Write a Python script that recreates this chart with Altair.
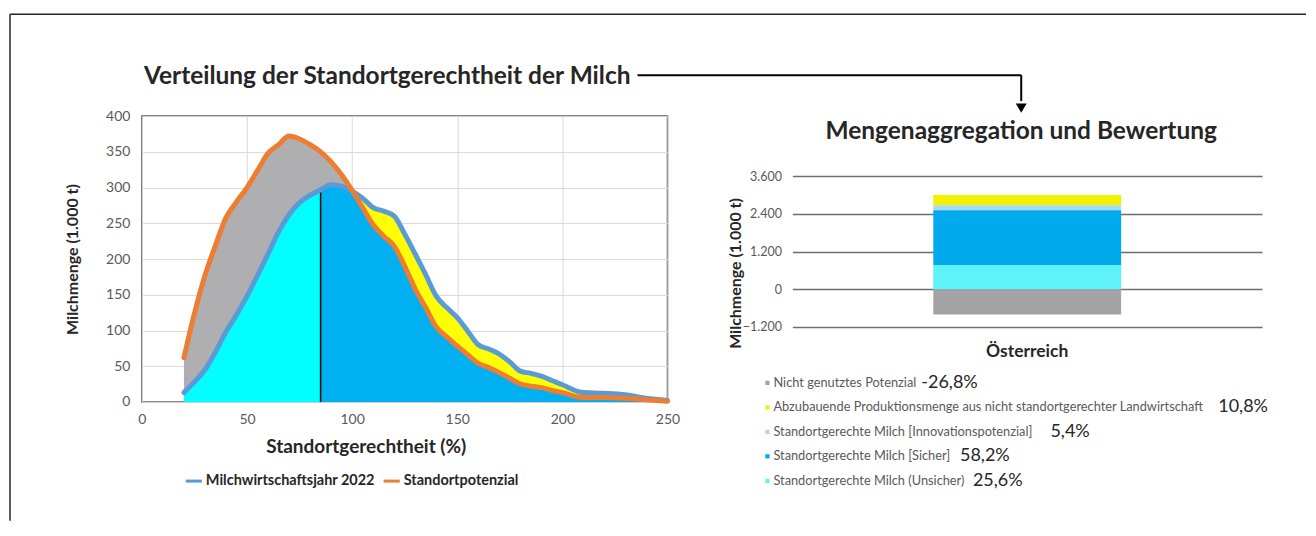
import altair as alt
import pandas as pd

# ---------------- data: left chart (distribution) ----------------
x_pct = [20, 25, 30, 35, 40, 45, 50, 55, 60, 65, 70, 75, 80, 85, 90, 95, 100, 105, 110, 115,
         120, 125, 130, 135, 140, 145, 150, 155, 160, 165, 170, 175, 180, 185, 190, 195, 200,
         210, 220, 230, 240, 250]
milch_2022 = [13, 28, 45, 70, 98, 122, 148, 177, 207, 238, 262, 279, 289, 297, 304, 302, 295, 285,
              272, 267, 260, 235, 207, 178, 148, 132, 118, 99, 80, 74, 67, 56, 43, 40, 36, 30, 24,
              13, 12, 10, 5, 2]
standortpotenzial = [62, 124, 177, 219, 258, 280, 300, 324, 348, 360, 372, 368, 360, 350, 336, 318,
                     296, 272, 248, 232, 218, 190, 158, 132, 105, 91, 78, 66, 54, 48, 41, 33, 25, 22,
                     20, 16, 13, 6, 6, 5, 3, 1]
split_at = 85
series_names = ["Milchwirtschaftsjahr 2022", "Standortpotenzial"]
x_ticks = [0, 50, 100, 150, 200, 250]
y_ticks = [0, 50, 100, 150, 200, 250, 300, 350, 400]

# ---------------- data: right chart (aggregation) ----------------
country = "Österreich"
categories = ["Nicht genutztes Potenzial",
              "Abzubauende Produktionsmenge aus nicht standortgerechter Landwirtschaft",
              "Standortgerechte Milch [Innovationspotenzial]",
              "Standortgerechte Milch [Sicher]",
              "Standortgerechte Milch (Unsicher)"]
amounts = [-805, 325, 160, 1745, 770]
shares = ["-26,8%", "10,8%", "5,4%", "58,2%", "25,6%"]
stack_rank = [0, 4, 3, 2, 1]
bar_colors = ["#A3A3A5", "#F2F200", "#A9D8F2", "#00AAEC", "#5EF3F8"]
r_ticks = [-1200, 0, 1200, 2400, 3600]

FONT = "Lato"
DARK = "#262626"
GREY = "#595959"

# ---------------- left chart ----------------
wide = pd.DataFrame({"x": x_pct, "blue": milch_2022, "orange": standortpotenzial})
wide["lo"] = wide[["blue", "orange"]].min(axis=1)
long = pd.concat([
    pd.DataFrame({"x": x_pct, "v": milch_2022, "series": series_names[0]}),
    pd.DataFrame({"x": x_pct, "v": standortpotenzial, "series": series_names[1]}),
])
split_df = pd.DataFrame({"x": [split_at], "y0": [0], "y": [milch_2022[x_pct.index(split_at)]]})
deco = pd.DataFrame({"d": [0]})

xs = alt.Scale(domain=[0, 250], nice=False)
ys = alt.Scale(domain=[0, 400], nice=False)
x_axis = alt.Axis(values=x_ticks, title="Standortgerechtheit (%)",
                  labelFontSize=14, labelColor=GREY, labelPadding=11, ticks=False, domain=False,
                  labelOverlap=False, labelFlush=False, grid=True, gridColor="#D9D9D9",
                  titleFontSize=19, titleFontWeight="bold", titleColor=DARK, titleX=224,
                  titleY=45, titleBaseline="middle")
y_axis = alt.Axis(values=y_ticks, title="Milchmenge (1.000 t)",
                  labelFontSize=14, labelColor=GREY, labelPadding=12, ticks=False, domain=False,
                  labelOverlap=False, labelFlush=False, grid=True, gridColor="#D9D9D9",
                  titleFontSize=16, titleFontWeight="bold", titleColor=DARK, titleX=-69,
                  titleY=143, titleBaseline="middle")


def X(field):
    return alt.X(field, scale=xs, axis=x_axis)


def Y(field):
    return alt.Y(field, scale=ys, axis=y_axis, stack=None)


base = alt.Chart(wide)
gray = base.mark_area(color="#AFAFB1", interpolate="monotone").encode(
    x=X("x:Q"), y=Y("lo:Q"), y2="orange:Q")
yellow = base.mark_area(color="#FFFF00", interpolate="monotone").encode(
    x=X("x:Q"), y=Y("lo:Q"), y2="blue:Q")
cyan = base.transform_filter(alt.datum.x <= split_at).mark_area(
    color="#00FFFF", interpolate="monotone").encode(x=X("x:Q"), y=Y("lo:Q"))
blue_fill = base.transform_filter(alt.datum.x >= split_at).mark_area(
    color="#00B0F0", interpolate="monotone").encode(x=X("x:Q"), y=Y("lo:Q"))
vline = alt.Chart(split_df).mark_rule(color="black", strokeWidth=1.5).encode(
    x=X("x:Q"), y=Y("y0:Q"), y2="y:Q")
lines = alt.Chart(long).mark_line(strokeWidth=5, interpolate="monotone", strokeCap="round").encode(
    x=X("x:Q"), y=Y("v:Q"),
    color=alt.Color("series:N", sort=series_names,
                    scale=alt.Scale(domain=series_names, range=["#5B9BD5", "#ED7D31"]),
                    legend=alt.Legend(orient="none", legendX=42, legendY=355, direction="horizontal",
                                      title=None, symbolType="stroke", symbolStrokeWidth=3,
                                      symbolSize=260, labelFontSize=14.5, labelFontWeight="bold",
                                      labelColor=DARK, labelFont=FONT, columnPadding=1,
                                      labelOffset=2, labelLimit=400)))

dchart = alt.Chart(deco)
left_title = dchart.mark_text(text="Verteilung der Standortgerechtheit der Milch", align="left",
                              baseline="middle", fontSize=24.5, fontWeight="bold", font=FONT,
                              color=DARK).encode(x=alt.value(2), y=alt.value(-39))
conn_h = dchart.mark_rule(color="black", strokeWidth=2).encode(
    x=alt.value(496), x2=alt.value(880), y=alt.value(-41))
conn_v = dchart.mark_rule(color="black", strokeWidth=2).encode(
    x=alt.value(880), y=alt.value(-41), y2=alt.value(-15))
arrow = dchart.mark_point(shape="triangle-down", filled=True, color="black", size=120,
                          opacity=1).encode(x=alt.value(880), y=alt.value(-8))
frame_top = dchart.mark_rule(color=DARK, strokeWidth=1.5).encode(
    x=alt.value(-132), x2=alt.value(1165), y=alt.value(-102))
frame_left = dchart.mark_rule(color=DARK, strokeWidth=1.5).encode(
    x=alt.value(-132), y=alt.value(-102), y2=alt.value(405))

left = alt.layer(gray, cyan, blue_fill, yellow, vline, lines, left_title, conn_h, conn_v, arrow,
                 frame_top, frame_left).properties(
    width=526, height=286, view=alt.ViewBackground(stroke=GREY, strokeWidth=1.5))

# ---------------- right chart ----------------
bar_df = pd.DataFrame({"country": country, "cat": categories, "amount": amounts, "rank": stack_rank})
leg_df = pd.DataFrame({"cat": categories, "share": shares, "row": list(range(len(categories)))})
cscale = alt.Scale(domain=categories, range=bar_colors)

bars = alt.Chart(bar_df).mark_bar(size=188).encode(
    x=alt.X("country:N", axis=alt.Axis(title=None, labelFontSize=17.5, labelFontWeight="bold",
                                       labelColor=DARK, labelPadding=16, ticks=False, domain=False,
                                       labelAngle=0)),
    y=alt.Y("amount:Q", stack="zero",
            scale=alt.Scale(domain=[-1200, 3600], range=[211, 60], nice=False, zero=False),
            axis=alt.Axis(values=r_ticks,
                          labelExpr="replace(format(datum.value, ','), ',', '.')",
                          title="Milchmenge (1.000 t)", titleFontSize=16, titleFontWeight="bold",
                          titleColor=DARK, titleX=-57, titleY=157, titleBaseline="middle",
                          grid=True, gridColor="#6E6E6E", gridWidth=1.6, ticks=False, domain=False,
                          labelFontSize=12.5, labelColor=GREY, labelPadding=11,
                          labelFlush=False, labelOverlap=False)),
    color=alt.Color("cat:N", scale=cscale, legend=None),
    order=alt.Order("rank:Q"))

leg_y = alt.Y("row:Q", scale=alt.Scale(domain=[0, 4], range=[267, 365]), axis=None)
lchart = alt.Chart(leg_df)
leg_sym = lchart.mark_square(size=18, opacity=1).encode(
    x=alt.value(-25), y=leg_y, color=alt.Color("cat:N", scale=cscale, legend=None))
leg_lab = lchart.mark_text(align="left", baseline="middle", fontSize=12.8, font=FONT,
                           color=GREY).encode(x=alt.value(-19), y=leg_y, text="cat:N")
leg_pct = lchart.transform_calculate(px="length(datum.cat) * 6.46 - 32.5").mark_text(
    align="left", baseline="middle", fontSize=18, font=FONT, color=DARK).encode(
    x=alt.X("px:Q", scale=alt.Scale(domain=[0, 470]), axis=None), y=leg_y, text="share:N")
right_title = alt.Chart(deco).mark_text(text="Mengenaggregation und Bewertung", align="center",
                                        baseline="middle", fontSize=24.5, fontWeight="bold",
                                        font=FONT, color=DARK).encode(
    x=alt.value(229), y=alt.value(16))

right = alt.layer(bars, right_title, leg_sym, leg_lab, leg_pct).resolve_scale(
    x="independent", y="independent").properties(
    width=470, height=211, view=alt.ViewBackground(strokeWidth=0, stroke="transparent"))

chart = alt.hconcat(left, right, spacing=125, bounds="flush").resolve_scale(
    color="independent").resolve_legend(color="independent").properties(
    padding={"left": 0, "top": 4, "right": 0, "bottom": 0}).configure_view(
    stroke="transparent").configure(font=FONT)

chart.save("out.html", embed_options={"renderer": "svg", "actions": False})
